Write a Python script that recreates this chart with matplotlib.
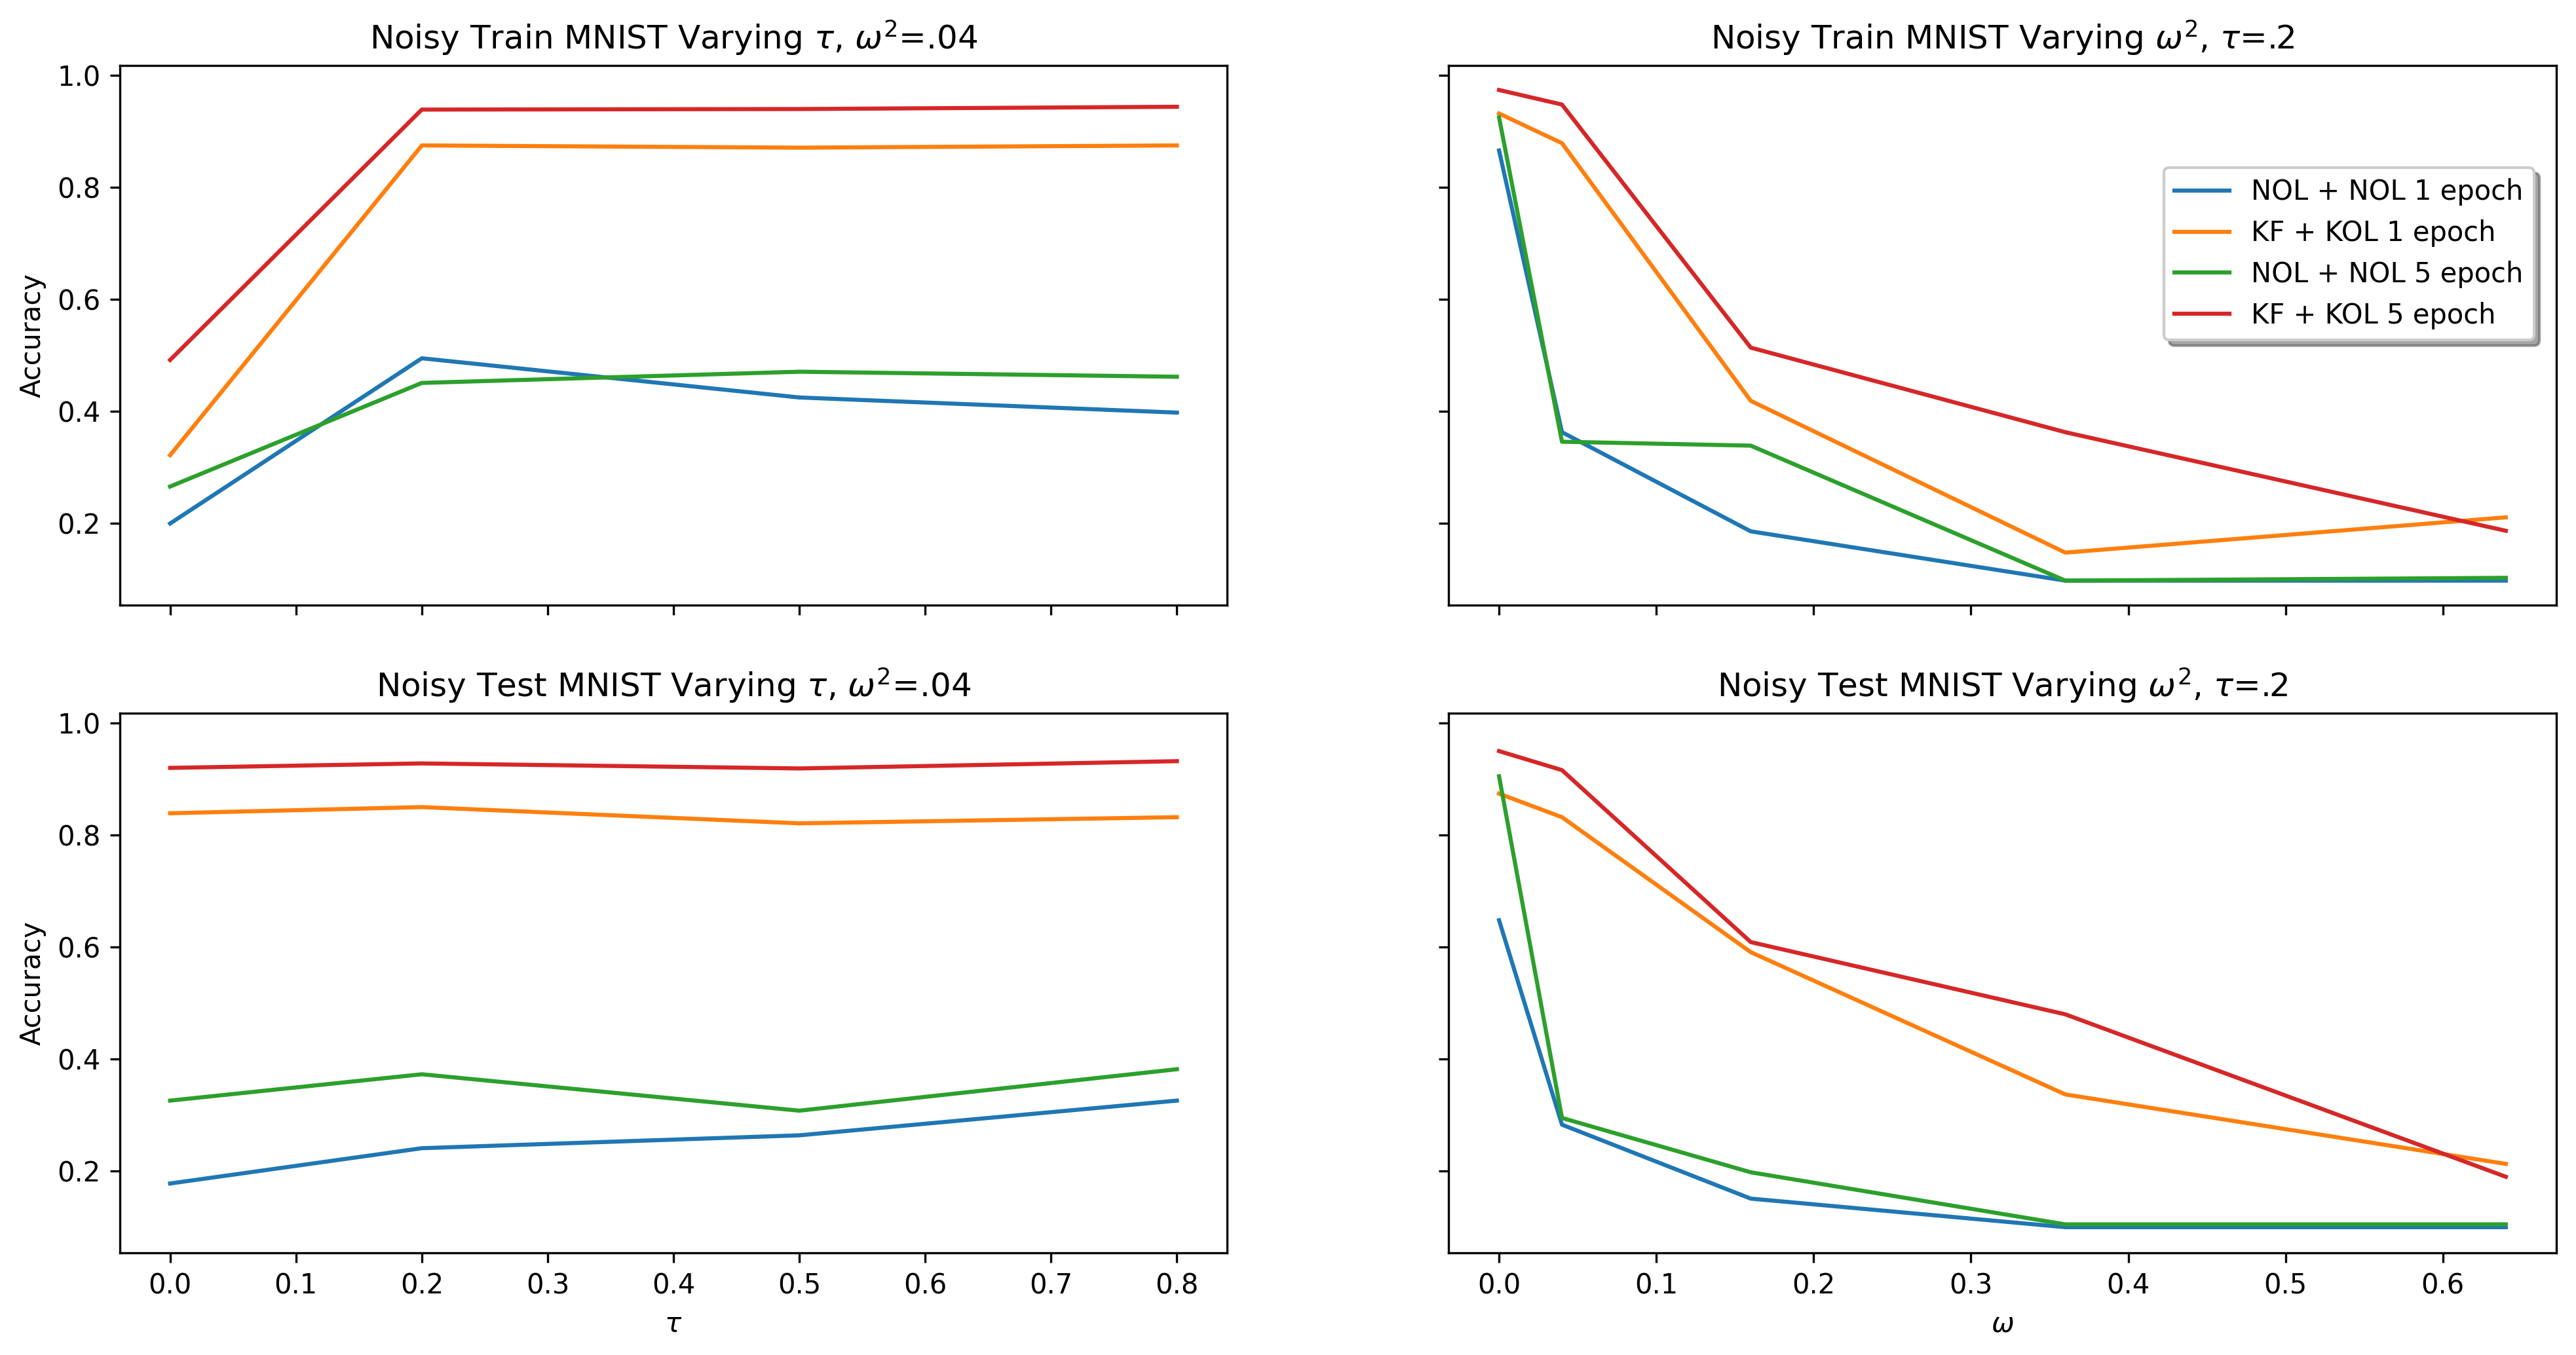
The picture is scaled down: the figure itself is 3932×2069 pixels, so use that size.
import matplotlib
matplotlib.use('Agg')
import matplotlib.pyplot as plt

labels = ['NOL + NOL 1 epoch', 'KF + KOL 1 epoch', 'NOL + NOL 5 epoch', 'KF + KOL 5 epoch']

# varying tau, omega^2 = .04
tau = [0.0, 0.2, 0.5, 0.8]
train_tau = [
    [0.200, 0.495, 0.425, 0.398],
    [0.322, 0.875, 0.871, 0.875],
    [0.266, 0.451, 0.471, 0.462],
    [0.492, 0.939, 0.940, 0.944],
]
test_tau = [
    [0.178, 0.241, 0.264, 0.326],
    [0.839, 0.850, 0.821, 0.832],
    [0.326, 0.373, 0.308, 0.382],
    [0.920, 0.928, 0.919, 0.932],
]

# varying omega^2, tau = .2
omega = [0.0, 0.04, 0.16, 0.36, 0.64]
train_omega = [
    [0.866, 0.363, 0.186, 0.098, 0.098],
    [0.932, 0.879, 0.419, 0.148, 0.211],
    [0.925, 0.346, 0.339, 0.098, 0.103],
    [0.974, 0.948, 0.514, 0.363, 0.187],
]
test_omega = [
    [0.648, 0.283, 0.151, 0.100, 0.100],
    [0.874, 0.832, 0.591, 0.337, 0.213],
    [0.905, 0.295, 0.198, 0.105, 0.105],
    [0.950, 0.916, 0.609, 0.480, 0.190],
]

fig, axes = plt.subplots(2, 2, figsize=(3932 / 300, 2069 / 300), dpi=300, sharex='col', sharey=True)

for i in range(4):
    axes[0, 0].plot(tau, train_tau[i], label=labels[i])
    axes[1, 0].plot(tau, test_tau[i], label=labels[i])
    axes[0, 1].plot(omega, train_omega[i], label=labels[i])
    axes[1, 1].plot(omega, test_omega[i], label=labels[i])

axes[0, 0].set_title(r'Noisy Train MNIST Varying $\tau$, $\omega^2$=.04')
axes[0, 1].set_title(r'Noisy Train MNIST Varying $\omega^2$, $\tau$=.2')
axes[1, 0].set_title(r'Noisy Test MNIST Varying $\tau$, $\omega^2$=.04')
axes[1, 1].set_title(r'Noisy Test MNIST Varying $\omega^2$, $\tau$=.2')

axes[0, 0].set_ylabel('Accuracy')
axes[1, 0].set_ylabel('Accuracy')
axes[1, 0].set_xlabel(r'$\tau$')
axes[1, 1].set_xlabel(r'$\omega$')

axes[0, 1].legend(loc='center right', bbox_to_anchor=(0.98, 0.651), borderaxespad=0, shadow=True)

plt.subplots_adjust(left=0.0465, right=0.9923, top=0.9517, bottom=0.0754, wspace=0.2, hspace=0.2)
plt.savefig('out.png')
